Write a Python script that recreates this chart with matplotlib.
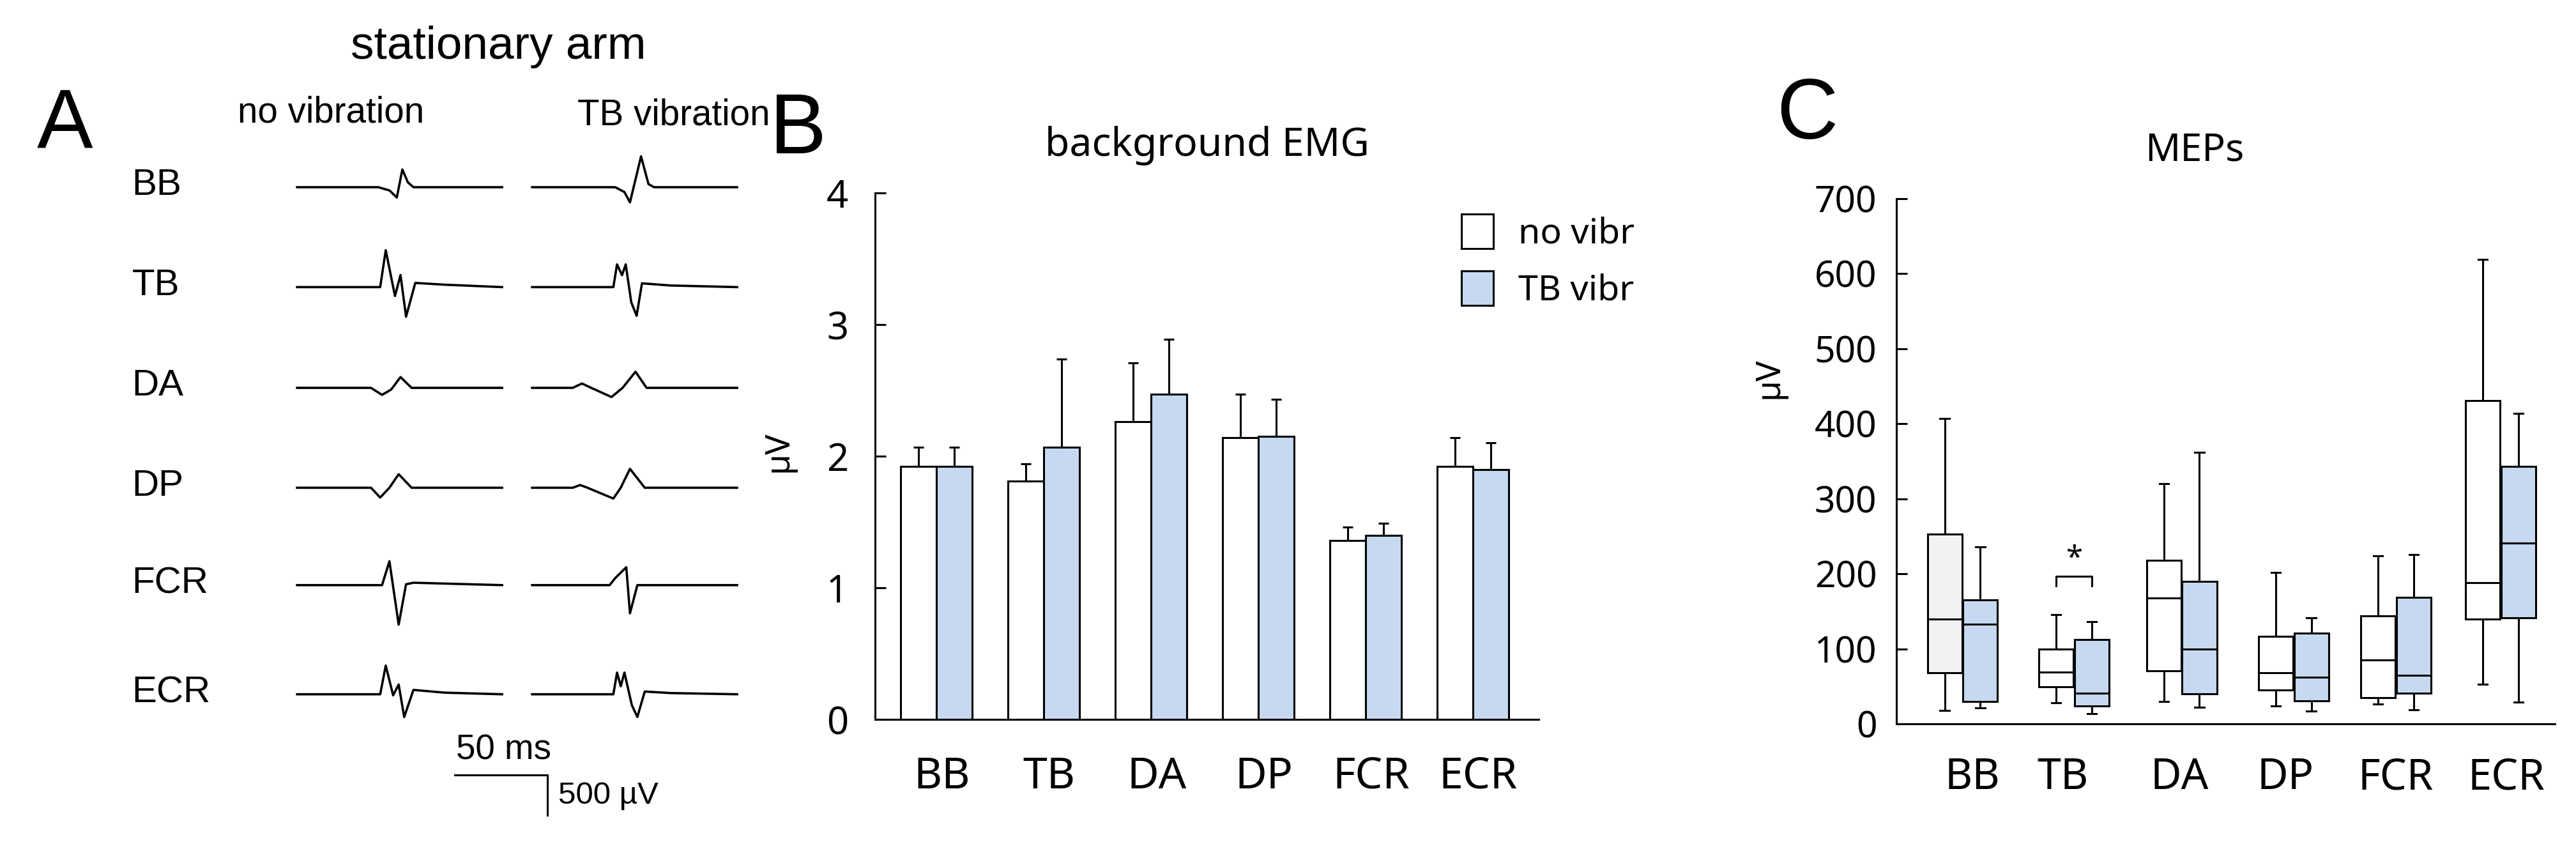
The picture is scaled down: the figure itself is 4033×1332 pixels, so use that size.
import matplotlib.pyplot as plt
import numpy as np

W, H = 4033, 1332

# ---- data ----
muscles = ["BB", "TB", "DA", "DP", "FCR", "ECR"]

# panel A: example traces, hand-read key points (ms from trace start, µV)
traces_novib = {
    "BB":  [(0, 0), (44, 0), (50, -40), (54, -128), (57, 220), (60, 60), (63, 0), (111, 0)],
    "TB":  [(0, 0), (45, 0), (48, 458), (53, -110), (56, 150), (59, -367), (64, 52), (80, 30), (111, 0)],
    "DA":  [(0, 0), (40, 0), (46, -87), (51, -20), (56, 134), (62, 0), (111, 0)],
    "DP":  [(0, 0), (40, 0), (45, -121), (50, 0), (55, 168), (62, 0), (111, 0)],
    "FCR": [(0, 0), (46, 0), (50, 296), (55, -490), (59, 10), (63, 30), (111, 0)],
    "ECR": [(0, 0), (45, 0), (48, 356), (52, -13), (55, 121), (58, -282), (63, 54), (80, 20), (111, 0)],
}
traces_vib = {
    "BB":  [(0, 0), (45, 0), (50, -60), (53, -188), (59, 383), (63, 40), (66, 0), (111, 0)],
    "TB":  [(0, 0), (44, 0), (46, 282), (48.7, 148), (50.7, 282), (53.7, -188), (56.6, -356), (59.5, 47), (75, 20), (111, 0)],
    "DA":  [(0, 0), (22, 0), (27, 54), (32, 0), (43, -114), (49, 0), (56, 200), (62, 0), (111, 0)],
    "DP":  [(0, 0), (22, 0), (26, 34), (30, 0), (44, -134), (48, 0), (53, 235), (61, 0), (111, 0)],
    "FCR": [(0, 0), (42, 0), (45, 87), (51, 222), (53, -350), (57, 0), (111, 0)],
    "ECR": [(0, 0), (44, 0), (46, 269), (48, 100), (50, 269), (54, -134), (57, -282), (61, 34), (75, 15), (111, 0)],
}
row_px = [223, 342, 462, 581, 697, 827]   # baseline rows (unscaled layout units)

# panel B: background EMG mean and upper error
emg_novib = [1.92, 1.81, 2.26, 2.14, 1.36, 1.92]
emg_novib_err = [0.15, 0.13, 0.45, 0.33, 0.10, 0.22]
emg_vib = [1.92, 2.07, 2.47, 2.15, 1.40, 1.90]
emg_vib_err = [0.15, 0.67, 0.42, 0.28, 0.09, 0.20]

# panel C: MEP box stats (whisker low, q1, median, q3, whisker high)
mep_novib = [
    (18, 68, 140, 253, 407),
    (28, 49, 69, 100, 146),
    (30, 71, 168, 218, 320),
    (24, 45, 68, 117, 202),
    (26, 35, 85, 144, 224),
    (53, 140, 188, 431, 619),
]
mep_vib = [
    (21, 30, 133, 165, 236),
    (14, 24, 41, 112, 136),
    (22, 40, 100, 190, 362),
    (17, 31, 62, 121, 141),
    (19, 41, 65, 169, 226),
    (29, 141, 241, 343, 414),
]

blue = "#c6d9f0"
lw = 2.2
plt.rcParams["font.family"] = "Liberation Sans"

fig = plt.figure(figsize=(W / 100, H / 100), dpi=100)

def px(x, y):
    return x / W, 1 - y / H

# ---- panel A ----
k = 1.314  # layout scale for panel A
pms, puv = 2.2 * k, 0.096 * k   # pixels per ms and per µV
axA = fig.add_axes([0, 0, 1000 * k / W, 1])
axA.set_xlim(0, 1000 * k / pms)
axA.set_ylim(0, H / puv)
axA.axis("off")
for m, ry in zip(muscles, row_px):
    base = (H - ry * k) / puv
    for start, tr in ((354 * k / pms, traces_novib[m]), (634 * k / pms, traces_vib[m])):
        t, v = zip(*tr)
        axA.plot(np.array(t) + start, np.array(v) + base, color="black", lw=2.6)
    fig.text(*px(157 * k, (ry - 2) * k), m, fontsize=32 * k, ha="left", va="center")
# scale bar
bx, by = 542 * k / pms, (H - 923 * k) / puv
axA.plot([bx, bx + 50, bx + 50], [by, by, by - 500], color="black", lw=2.2)
fig.text(*px(600 * k, 894 * k), "50 ms", fontsize=30 * k, ha="center", va="center")
fig.text(*px(665 * k, 948 * k), "500 µV", fontsize=27 * k, ha="left", va="center")
fig.text(*px(77 * k, 150 * k), "A", fontsize=72 * k, ha="center", va="center")
fig.text(*px(594 * k, 56 * k), "stationary arm", fontsize=40 * k, ha="center", va="center")
fig.text(*px(394 * k, 134 * k), "no vibration", fontsize=31 * k, ha="center", va="center")
fig.text(*px(803 * k, 137 * k), "TB vibration", fontsize=31 * k, ha="center", va="center")

# ---- panel B ----
fontBC = "Noto Sans"
l, r, t, b = 1370, 2409, 302, 1126
axB = fig.add_axes([l / W, 1 - b / H, (r - l) / W, (b - t) / H])
x = np.arange(len(muscles))
wd = 0.333
axB.bar(x - wd / 2, emg_novib, wd, color="white", edgecolor="black", lw=lw,
        yerr=[np.zeros(6), emg_novib_err], error_kw=dict(lw=lw, capsize=6, capthick=lw),
        label="no vibr", zorder=2)
axB.bar(x + wd / 2, emg_vib, wd, color=blue, edgecolor="black", lw=lw,
        yerr=[np.zeros(6), emg_vib_err], error_kw=dict(lw=lw, capsize=6, capthick=lw),
        label="TB vibr", zorder=2)
axB.set_xlim(-0.574, 5.615)
axB.set_ylim(0, 4)
axB.set_yticks([0, 1, 2, 3, 4])
axB.set_xticks(x + 0.05)
axB.set_xticklabels(muscles, fontsize=49, family=fontBC)
axB.tick_params(axis="x", length=0, pad=40)
axB.tick_params(axis="y", direction="in", length=12, width=lw, labelsize=43, pad=30)
for lab in axB.get_yticklabels():
    lab.set_family(fontBC)
for s in ("top", "right"):
    axB.spines[s].set_visible(False)
for s in ("left", "bottom"):
    axB.spines[s].set_linewidth(lw)
fig.text(*px(1219, 707), "µV", fontsize=38, rotation=90, ha="center", va="center", family=fontBC)
axB.legend(loc="upper left", bbox_to_anchor=((2255 - l) / (r - l), 1.0), frameon=False,
           prop=dict(family=fontBC, size=40), handlelength=0.9, handleheight=1.1,
           labelspacing=0.55, handletextpad=0.7, borderaxespad=0.2)
fig.text(*px(1249, 205), "B", fontsize=96, ha="center", va="center")
fig.text(*px(1890, 228), "background EMG", fontsize=45, ha="center", va="center", family=fontBC)

# ---- panel C ----
l, r, t, b = 2969, 4000, 311, 1133
axC = fig.add_axes([l / W, 1 - b / H, (r - l) / W, (b - t) / H])
gpos = np.array([343, 562, 774, 994, 1195, 1401])  # group centres
half, bw = 35, 68

def draw_boxes(stats, pos, face):
    data = [dict(whislo=s[0], q1=s[1], med=s[2], q3=s[3], whishi=s[4], fliers=[]) for s in stats]
    axC.bxp(data, positions=pos, widths=bw, patch_artist=True, showcaps=True,
            boxprops=dict(facecolor=face, edgecolor="black", lw=lw),
            medianprops=dict(color="black", lw=lw),
            whiskerprops=dict(color="black", lw=lw),
            capprops=dict(color="black", lw=lw), capwidths=18, manage_ticks=False)

draw_boxes(mep_novib[:1], gpos[:1] - half, "#f2f2f2")
draw_boxes(mep_novib[1:], gpos[1:] - half, "white")
draw_boxes(mep_vib, gpos + half, blue)
axC.set_xlim(213, 1508)
axC.set_ylim(0, 700)
axC.set_yticks(range(0, 701, 100))
axC.set_xticks([362, 540, 770, 978, 1195, 1413])
axC.set_xticklabels(muscles, fontsize=48, family=fontBC)
axC.tick_params(axis="x", length=0, pad=36)
axC.tick_params(axis="y", direction="in", length=12, width=lw, labelsize=41, pad=22)
for lab in axC.get_yticklabels():
    lab.set_family(fontBC)
for s in ("top", "right"):
    axC.spines[s].set_visible(False)
for s in ("left", "bottom"):
    axC.spines[s].set_linewidth(lw)
# significance bracket on TB
bx0, bx1 = gpos[1] - half, gpos[1] + half
axC.plot([bx0, bx0, bx1, bx1], [184, 197, 197, 184], color="black", lw=lw)
axC.text((bx0 + bx1) / 2, 200, "*", fontsize=34, ha="center", va="bottom", family=fontBC)
fig.text(*px(2770, 592), "µV", fontsize=38, rotation=90, ha="center", va="center", family=fontBC)
fig.text(*px(2829, 182), "C", fontsize=96, ha="center", va="center")
fig.text(*px(3436, 236), "MEPs", fontsize=44, ha="center", va="center", family=fontBC)

fig.savefig("out.png", dpi=100)
